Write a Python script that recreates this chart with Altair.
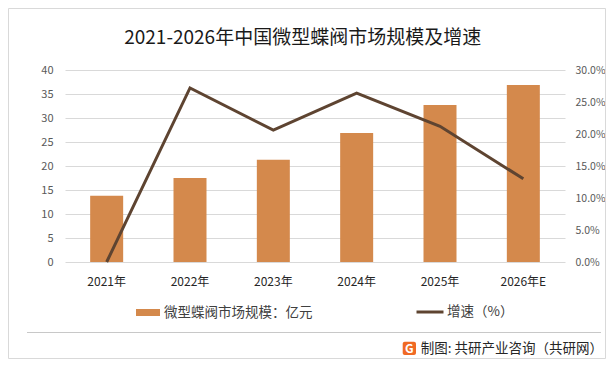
import altair as alt
import pandas as pd

# ---- data ----
years = ["2021年", "2022年", "2023年", "2024年", "2025年", "2026年E"]
market_size = [13.8, 17.5, 21.3, 26.9, 32.7, 36.9]          # 亿元
growth_rate = [0.0, 0.272, 0.206, 0.264, 0.212, 0.130]       # 增速
bar_label = "微型蝶阀市场规模：亿元"
line_label = "增速（%）"
title_text = "2021-2026年中国微型蝶阀市场规模及增速"
source_text = "制图: 共研产业咨询（共研网）"
left_ticks = [0, 5, 10, 15, 20, 25, 30, 35, 40]
right_ticks = [0, 0.05, 0.10, 0.15, 0.20, 0.25, 0.30]

FONT = "Noto Sans CJK SC"
BAR_COLOR = "#D4894C"
LINE_COLOR = "#5E4431"

df = pd.DataFrame({
    "year": years,
    "size": market_size,
    "growth": growth_rate,
    "s1": bar_label,
    "s2": line_label,
})

x_enc = alt.X(
    "year:N", sort=years,
    scale=alt.Scale(paddingInner=0, paddingOuter=0),
    axis=alt.Axis(title=None, labelAngle=0, domain=False, ticks=False,
                  labelPadding=14, labelFontSize=12, labelColor="#262626",
                  labelFont=FONT),
)

bars = alt.Chart(df).mark_bar(size=33).encode(
    x=x_enc,
    y=alt.Y("size:Q", scale=alt.Scale(domain=[0, 40], nice=False),
            axis=alt.Axis(values=left_ticks, title=None, domain=False, ticks=False,
                          labelPadding=12, grid=True, gridColor="#d9d9d9",
                          labelColor="#595959", labelFontSize=11, labelFont=FONT)),
    color=alt.Color("s1:N",
                    scale=alt.Scale(domain=[bar_label], range=[BAR_COLOR]),
                    legend=alt.Legend(orient="none", legendX=71, legendY=230.5, title=None,
                                      symbolType="M-1,-0.29L1,-0.29L1,0.29L-1,0.29Z",
                                      symbolSize=576, symbolStrokeWidth=0,
                                      labelFontSize=13.5, labelColor="#404040",
                                      labelFont=FONT, labelOffset=4, padding=0)),
)

line = alt.Chart(df).mark_line(strokeWidth=3).encode(
    x=alt.X("year:N", sort=years),
    y=alt.Y("growth:Q", scale=alt.Scale(domain=[0, 0.30], nice=False),
            axis=alt.Axis(orient="right", values=right_ticks, format=".1%", title=None,
                          domain=False, ticks=False, labelPadding=10, grid=False,
                          labelColor="#595959", labelFontSize=10.5, labelFont=FONT)),
    stroke=alt.Stroke("s2:N",
                      scale=alt.Scale(domain=[line_label], range=[LINE_COLOR]),
                      legend=alt.Legend(orient="none", legendX=350, legendY=227, title=None,
                                        symbolType="stroke", symbolSize=729,
                                        symbolStrokeWidth=3,
                                        labelFontSize=13.5, labelColor="#404040",
                                        labelFont=FONT, labelOffset=2, padding=0)),
)

one = pd.DataFrame({"t": [title_text], "s": [source_text], "g": ["G"]})

border = alt.Chart(one).mark_rect(fill="transparent", stroke="#d9d9d9", strokeWidth=1).encode(
    x=alt.value(-56.5), x2=alt.value(540.5), y=alt.value(-61.5), y2=alt.value(288.5)
)
separator = alt.Chart(one).mark_rule(color="#c8c8c8", strokeWidth=1).encode(
    x=alt.value(-38), x2=alt.value(536), y=alt.value(262.5)
)
title = alt.Chart(one).mark_text(fontSize=19, font=FONT, color="#1a1a1a",
                                 align="center", baseline="middle").encode(
    x=alt.value(237.7), y=alt.value(-32.5), text="t:N"
)
logo = alt.Chart(one).mark_rect(fill="#F06A24", cornerRadius=2).encode(
    x=alt.value(337.7), x2=alt.value(351), y=alt.value(271.7), y2=alt.value(285)
)
logo_g = alt.Chart(one).mark_text(fontSize=12, font=FONT, fontWeight="bold", color="white",
                                  align="center", baseline="middle").encode(
    x=alt.value(344.4), y=alt.value(278.6), text="g:N"
)
source = alt.Chart(one).mark_text(fontSize=13.5, font=FONT, color="#262626",
                                  align="left", baseline="middle").encode(
    x=alt.value(355.7), y=alt.value(279), text="s:N"
)

chart = alt.layer(border, separator, bars, line, title, logo, logo_g, source).resolve_scale(
    y="independent"
).properties(
    width=500, height=192,
    autosize=alt.AutoSizeParams(type="none"),
    padding={"left": 57, "top": 62, "right": 41, "bottom": 97},
    background="white",
).configure_view(stroke=None)

chart.save("out.html", embed_options={"renderer": "svg", "actions": False})
